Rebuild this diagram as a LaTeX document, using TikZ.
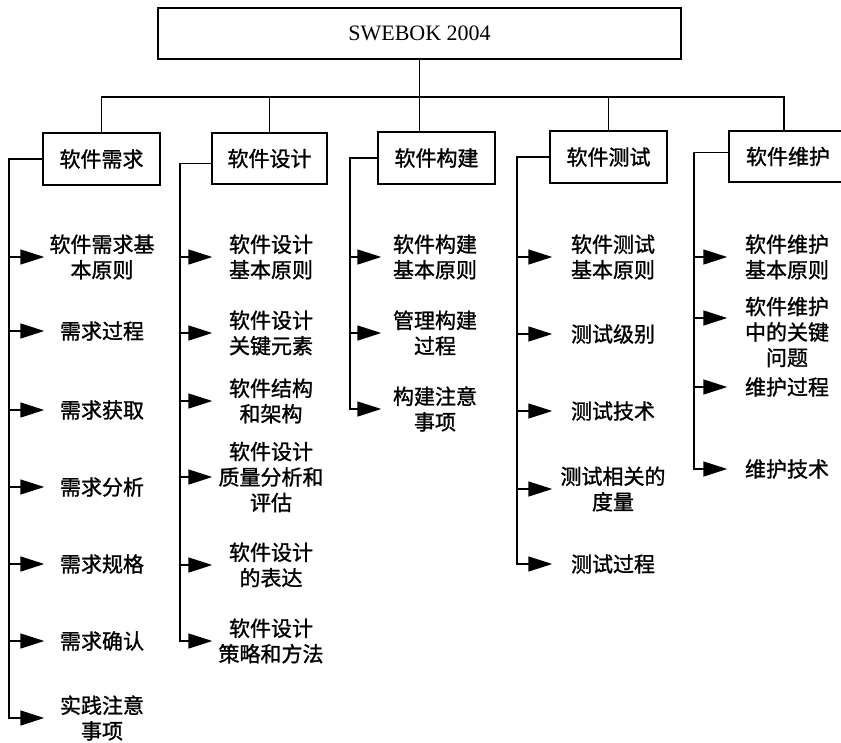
\documentclass[tikz,border=0pt]{standalone}
\usepackage{fontspec}
\setmainfont{Liberation Serif}
\newfontfamily\cjk[FakeBold=1.2]{Noto Sans CJK SC}
\usetikzlibrary{arrows.meta}
\begin{document}
\begin{tikzpicture}[x=1pt,y=-1pt, line width=1.4pt, line join=miter,
  box/.style={draw, rectangle, inner sep=0pt, font=\cjk\fontsize{21}{25}\selectfont},
  item/.style={inner sep=0pt, align=center, font=\cjk\fontsize{21}{25.5}\selectfont},
  arr/.style={-{Triangle[length=24pt,width=15pt]}}]
\useasboundingbox (0,0) rectangle (841,742);
\clip (0,0) rectangle (841,742);
% top and category boxes
\node[box, minimum width=523pt, minimum height=51pt, font=\fontsize{22}{26}\selectfont] (top) at (419.5,33.5) {SWEBOK 2004};
\node[box, minimum width=117pt, minimum height=52pt] (b1) at (101.5,159) {软件需求};
\node[box, minimum width=115pt, minimum height=51pt] (b2) at (269.5,158.5) {软件设计};
\node[box, minimum width=117pt, minimum height=52pt] (b3) at (436.5,158) {软件构建};
\node[box, minimum width=117pt, minimum height=52pt] (b4) at (608.5,157) {软件测试};
\node[box, minimum width=118pt, minimum height=51pt] (b5) at (788,156.5) {软件维护};
% tree connectors
\coordinate (barL) at (102,97);
\coordinate (barR) at (784,97);
\draw (top.south) -- (top.south |- b3.north);
\draw (b1.north) -- (b1.north |- barL) -- (barR) -- (barR |- b5.north);
\draw (b2.north) -- (b2.north |- barL);
\draw (b4.north) -- (b4.north |- barL);
% spine x positions
\coordinate (s1) at (9,0);
\coordinate (s2) at (180,0);
\coordinate (s3) at (350,0);
\coordinate (s4) at (517,0);
\coordinate (s5) at (694,0);
% column 1
\begin{scope}[every node/.style={item, minimum width=114pt}]
\node (a1) at (102,257) {软件需求基\\本原则};
\node (a2) at (102,331) {需求过程};
\node (a3) at (102,410) {需求获取};
\node (a4) at (102,487) {需求分析};
\node (a5) at (102,564) {需求规格};
\node (a6) at (102,641) {需求确认};
\node (a7) at (102,718) {实践注意\\事项};
\end{scope}
% column 2
\begin{scope}[every node/.style={item, minimum width=116pt}]
\node (d1) at (271,257) {软件设计\\基本原则};
\node (d2) at (271,333) {软件设计\\关键元素};
\node (d3) at (271,401) {软件结构\\和架构};
\node (d4) at (271,477) {软件设计\\质量分析和\\评估};
\node (d5) at (271,565) {软件设计\\的表达};
\node (d6) at (271,641) {软件设计\\策略和方法};
\end{scope}
% column 3
\begin{scope}[every node/.style={item, minimum width=106pt}]
\node (c1) at (435,257) {软件构建\\基本原则};
\node (c2) at (435,333) {管理构建\\过程};
\node (c3) at (435,409) {构建注意\\事项};
\end{scope}
% column 4
\begin{scope}[every node/.style={item, minimum width=120pt}]
\node (e1) at (613,257) {软件测试\\基本原则};
\node (e2) at (613,334) {测试级别};
\node (e3) at (613,411) {测试技术};
\node (e4) at (613,489) {测试相关的\\度量};
\node (e5) at (613,564) {测试过程};
\end{scope}
% column 5
\begin{scope}[every node/.style={item, minimum width=118pt}]
\node (f1) at (787,257) {软件维护\\基本原则};
\node (f2) at (787,332) {软件维护\\中的关键\\问题};
\node (f3) at (787,387) {维护过程};
\node (f4) at (787,469) {维护技术};
\end{scope}
\coordinate (f2a) at ([yshift=14pt]f2.west);
\coordinate (b2c) at ([yshift=-5pt]b2.west);
\coordinate (b5c) at ([yshift=4pt]b5.west);
% spines with last arrow
\draw[arr] (b1.west) -| (s1 |- a7.west) -- (a7.west);
\draw[arr] (b2c) -| (s2 |- d6.west) -- (d6.west);
\draw[arr] (b3.west) -| (s3 |- c3.west) -- (c3.west);
\draw[arr] (b4.west) -| (s4 |- e5.west) -- (e5.west);
\draw[arr] (b5c) -| (s5 |- f4.west) -- (f4.west);
% other arrows
\foreach \n in {a1,a2,a3,a4,a5,a6}{\draw[arr] (s1 |- \n.west) -- (\n.west);}
\foreach \n in {d1,d2,d3,d4,d5}{\draw[arr] (s2 |- \n.west) -- (\n.west);}
\foreach \n in {c1,c2}{\draw[arr] (s3 |- \n.west) -- (\n.west);}
\foreach \n in {e1,e2,e3,e4}{\draw[arr] (s4 |- \n.west) -- (\n.west);}
\foreach \n in {f1}{\draw[arr] (s5 |- \n.west) -- (\n.west);}
\draw[arr] (s5 |- f2a) -- (f2a);
\draw[arr] (s5 |- f3.west) -- (f3.west);
\end{tikzpicture}
\end{document}
